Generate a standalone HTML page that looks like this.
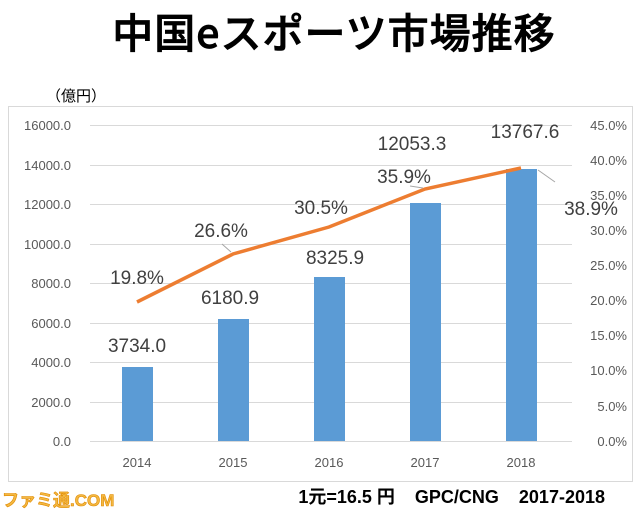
<!DOCTYPE html>
<html><head><meta charset="utf-8"><style>
body{margin:0;width:640px;height:512px;background:#fff;overflow:hidden}
svg{display:block}
</style></head><body>
<svg width="640" height="512" xmlns="http://www.w3.org/2000/svg" font-family="Liberation Sans, Noto Sans CJK JP, sans-serif">
<text x="334" y="48" text-anchor="middle" font-size="41" font-weight="500" letter-spacing="1" font-family="Noto Sans CJK JP, sans-serif" fill="#000" stroke="#000" stroke-width="0.8">中国eスポーツ市場推移</text>
<text x="46" y="101" font-size="15" font-family="Noto Sans CJK JP, sans-serif" fill="#000">（億円）</text>
<rect x="8.5" y="106.5" width="624" height="375" fill="#fff" stroke="#d9d9d9"/>
<g stroke="#d9d9d9" stroke-width="1">
<line x1="90" x2="572" y1="125.5" y2="125.5"/><line x1="90" x2="572" y1="165.5" y2="165.5"/>
<line x1="90" x2="572" y1="204.5" y2="204.5"/><line x1="90" x2="572" y1="244.5" y2="244.5"/>
<line x1="90" x2="572" y1="283.5" y2="283.5"/><line x1="90" x2="572" y1="323.5" y2="323.5"/>
<line x1="90" x2="572" y1="362.5" y2="362.5"/><line x1="90" x2="572" y1="402.5" y2="402.5"/>
<line x1="90" x2="572" y1="441.5" y2="441.5"/>
</g>
<g font-size="13" fill="#595959" text-anchor="end">
<text x="71" y="130">16000.0</text><text x="71" y="170">14000.0</text><text x="71" y="209">12000.0</text>
<text x="71" y="249">10000.0</text><text x="71" y="288">8000.0</text><text x="71" y="328">6000.0</text>
<text x="71" y="367">4000.0</text><text x="71" y="407">2000.0</text><text x="71" y="446">0.0</text>
</g>
<g font-size="13" fill="#595959" text-anchor="end">
<text x="627" y="130">45.0%</text><text x="627" y="165">40.0%</text><text x="627" y="200">35.0%</text>
<text x="627" y="235">30.0%</text><text x="627" y="270">25.0%</text><text x="627" y="305">20.0%</text>
<text x="627" y="340">15.0%</text><text x="627" y="375">10.0%</text><text x="627" y="411">5.0%</text>
<text x="627" y="446">0.0%</text>
</g>
<g fill="#5b9bd5">
<rect x="122" y="367" width="31" height="74"/><rect x="218" y="319" width="31" height="122"/>
<rect x="314" y="277" width="31" height="164"/><rect x="410" y="203" width="31" height="238"/>
<rect x="506" y="169" width="31" height="272"/>
</g>
<g font-size="13" fill="#595959" text-anchor="middle">
<text x="137" y="467">2014</text><text x="233" y="467">2015</text><text x="329" y="467">2016</text>
<text x="425" y="467">2017</text><text x="521" y="467">2018</text>
</g>
<polyline points="137,302 233,254 329,227 425,189 521,168" fill="none" stroke="#ed7d31" stroke-width="3.5"/>
<g stroke="#a6a6a6" stroke-width="1"><line x1="222" y1="244" x2="231" y2="252"/><line x1="538" y1="170" x2="555" y2="182"/><line x1="410" y1="186" x2="423" y2="188"/></g>
<g font-size="19" fill="#404040" text-anchor="middle">
<text x="137" y="352">3734.0</text><text x="230" y="304">6180.9</text><text x="335" y="264">8325.9</text>
<text x="412" y="150">12053.3</text><text x="525" y="138">13767.6</text>
<text x="137" y="284">19.8%</text><text x="221" y="237">26.6%</text><text x="321" y="214">30.5%</text>
<text x="404" y="183">35.9%</text><text x="591" y="215">38.9%</text>
</g>
<text x="605" y="503" text-anchor="end" font-size="18" font-weight="bold" fill="#000" xml:space="preserve" style="white-space:pre" font-family="Liberation Sans, Noto Sans CJK JP, sans-serif">1元=16.5 円    GPC/CNG    2017-2018</text>
<text x="2" y="506" font-size="17" font-weight="bold" fill="#f4b942" stroke="#e08a00" stroke-width="0.6" font-family="Liberation Sans, Noto Sans CJK JP, sans-serif">ファミ通.COM</text>
</svg>
</body></html>
